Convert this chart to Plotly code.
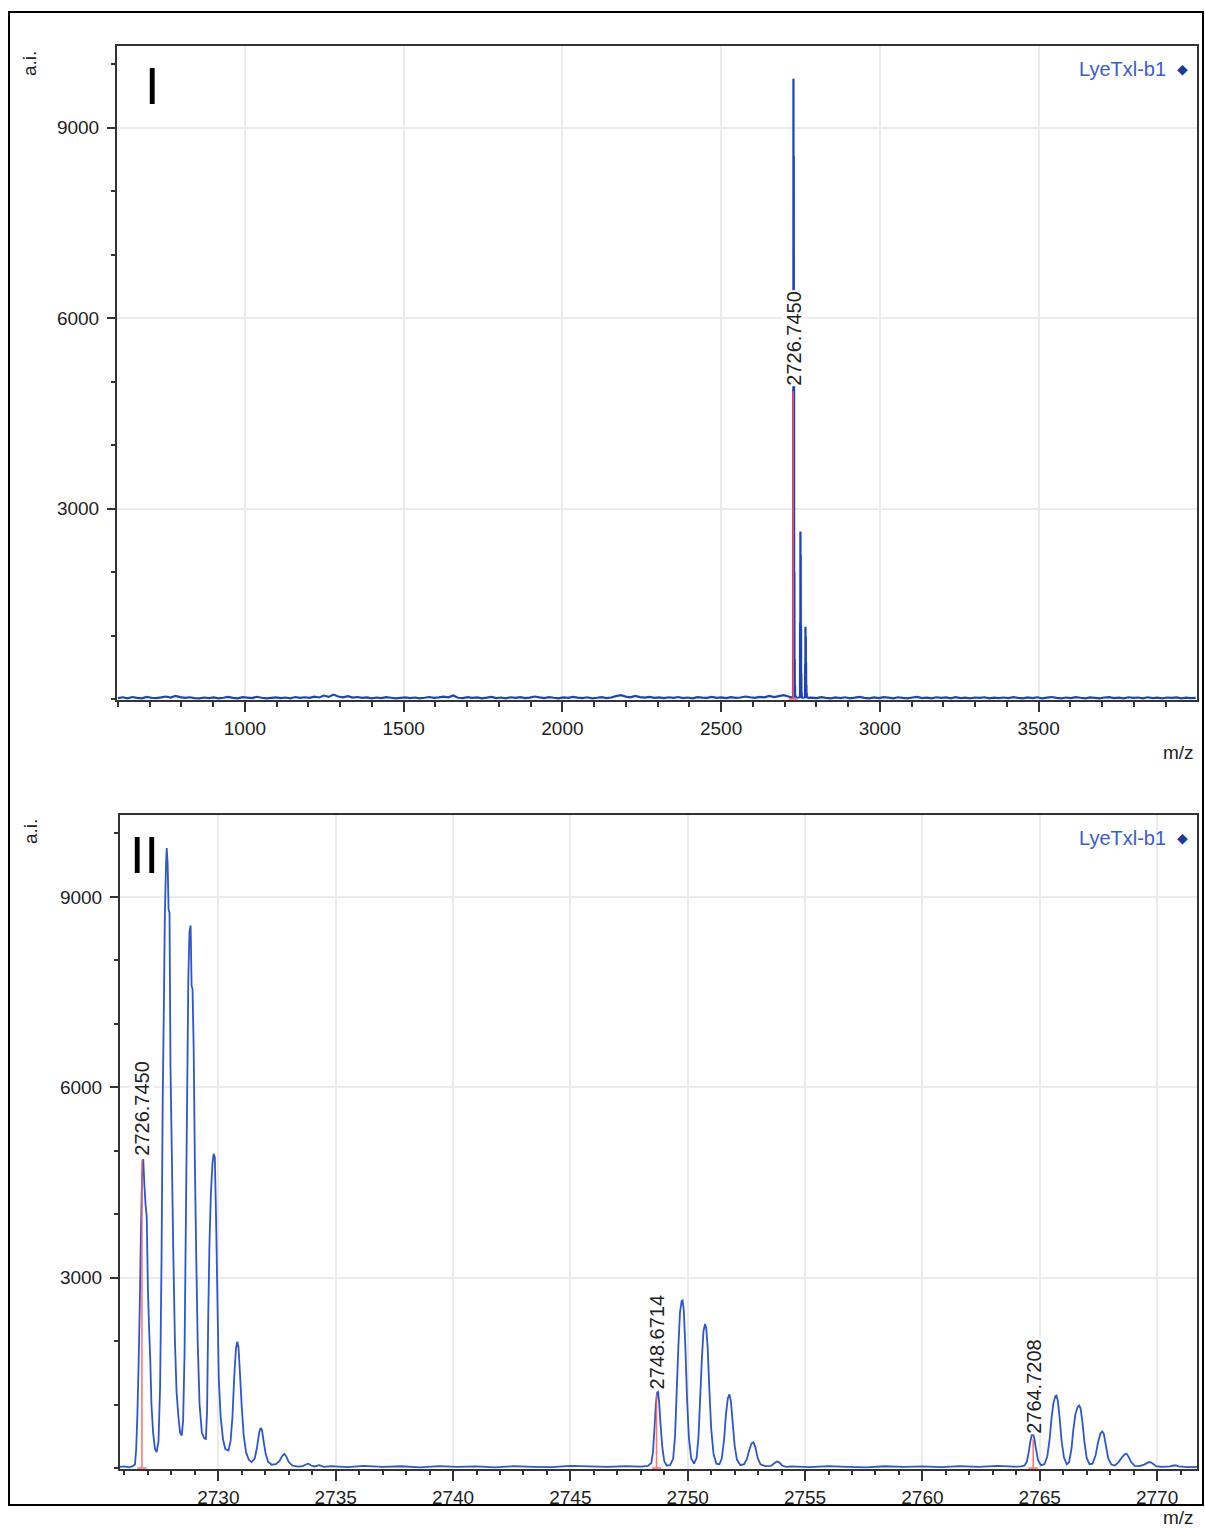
import numpy as np
import plotly.graph_objects as go

W, H = 1205, 1529

# ---------------- spectrum data (m/z, intensity a.i.) ----------------
# isotope cluster around the monoisotopic [M+H]+ 2726.7450
cluster_a_mz = [2725.80, 2726.00, 2726.20, 2726.35, 2726.45, 2726.50, 2726.55, 2726.60, 2726.65, 2726.70,
                2726.75, 2726.80, 2726.85, 2726.90, 2726.95, 2727.00, 2727.05, 2727.10, 2727.15, 2727.22,
                2727.30, 2727.37, 2727.45, 2727.52, 2727.58, 2727.63, 2727.68, 2727.72, 2727.77, 2727.80,
                2727.84, 2727.88, 2727.92, 2727.96, 2728.02, 2728.08, 2728.15, 2728.22, 2728.30, 2728.37,
                2728.44, 2728.50, 2728.56, 2728.62, 2728.68, 2728.72, 2728.77, 2728.82, 2728.86, 2728.90,
                2728.95, 2729.00, 2729.06, 2729.12, 2729.20, 2729.30, 2729.40, 2729.47, 2729.52, 2729.57,
                2729.62, 2729.68, 2729.75, 2729.80, 2729.85, 2729.90, 2729.95, 2730.02, 2730.10, 2730.20,
                2730.30, 2730.43, 2730.52, 2730.60, 2730.68, 2730.75, 2730.81, 2730.86, 2730.92, 2731.00,
                2731.08, 2731.18, 2731.30, 2731.42, 2731.55, 2731.65, 2731.74, 2731.80, 2731.86, 2731.93,
                2732.02, 2732.12, 2732.27, 2732.45, 2732.60, 2732.72, 2732.81, 2732.90, 2733.00, 2733.15,
                2733.40, 2733.60, 2733.75, 2733.84, 2733.95, 2734.10, 2734.30, 2734.50]
cluster_a_int = [18, 25, 12, 30, 60, 300, 830, 1600, 2500, 3700,
                 4600, 4870, 4450, 4150, 3950, 2800, 2200, 1700, 1000, 560,
                 300, 250, 420, 1300, 3300, 5800, 7300, 8700, 9500, 9770,
                 9520, 8800, 8750, 6350, 4900, 3400, 2000, 1200, 800, 560,
                 510, 750, 1800, 4000, 6200, 7700, 8450, 8550, 7600, 7550,
                 6600, 4800, 3300, 2000, 1000, 550, 470, 460, 900, 2400,
                 3500, 4300, 4800, 4950, 4900, 4000, 2900, 1400, 800, 450,
                 300, 277, 420, 800, 1450, 1880, 1990, 1900, 1500, 950,
                 520, 250, 130, 94, 150, 330, 560, 630, 600, 420,
                 220, 100, 52, 60, 110, 190, 225, 180, 95, 40,
                 22, 30, 60, 68, 40, 25, 45, 20]

gap1_mz = [2734.8, 2735.5, 2736.2, 2737.0, 2737.8, 2738.6, 2739.4, 2740.2, 2741.0,
           2741.8, 2742.6, 2743.4, 2744.2, 2745.0, 2745.8, 2746.6, 2747.4, 2748.0]
gap1_int = [30, 15, 35, 20, 28, 12, 30, 18, 25, 10, 30, 20, 15, 35, 25, 18, 30, 22]

# cluster around 2748.6714
cluster_b_mz = [2748.30, 2748.45, 2748.52, 2748.58, 2748.64, 2748.70, 2748.74, 2748.78, 2748.84, 2748.92,
                2749.00, 2749.10, 2749.25, 2749.38, 2749.46, 2749.53, 2749.60, 2749.67, 2749.74, 2749.78,
                2749.83, 2749.90, 2749.97, 2750.05, 2750.15, 2750.27, 2750.38, 2750.46, 2750.53, 2750.60,
                2750.67, 2750.74, 2750.79, 2750.85, 2750.92, 2751.00, 2751.10, 2751.22, 2751.35, 2751.45,
                2751.55, 2751.63, 2751.71, 2751.78, 2751.84, 2751.92, 2752.00, 2752.10, 2752.25, 2752.40,
                2752.52, 2752.62, 2752.72, 2752.80, 2752.88, 2752.98, 2753.10, 2753.30, 2753.55, 2753.70,
                2753.80, 2753.90, 2754.02, 2754.20]
cluster_b_int = [35, 80, 250, 600, 1000, 1190, 1200, 1050, 700, 320,
                 110, 40, 45, 150, 500, 1200, 1900, 2450, 2630, 2640,
                 2500, 1900, 1100, 480, 150, 70, 160, 500, 1100, 1700,
                 2150, 2270, 2200, 1900, 1250, 620, 220, 70, 60, 150,
                 450, 850, 1100, 1160, 1050, 700, 350, 130, 45, 60,
                 140, 280, 390, 405, 330, 160, 60, 30, 35, 80,
                 104, 90, 40, 20]

gap2_mz = [2754.4, 2755.2, 2756.0, 2756.8, 2757.6, 2758.4, 2759.2, 2760.0, 2760.8,
           2761.6, 2762.4, 2763.2, 2763.9]
gap2_int = [25, 15, 30, 20, 12, 28, 18, 25, 15, 30, 20, 35, 22]

# cluster around 2764.7208
cluster_c_mz = [2764.20, 2764.35, 2764.45, 2764.53, 2764.60, 2764.67, 2764.71, 2764.76, 2764.84, 2764.93,
                2765.05, 2765.20, 2765.32, 2765.42, 2765.50, 2765.58, 2765.66, 2765.71, 2765.77, 2765.85,
                2765.93, 2766.03, 2766.15, 2766.25, 2766.35, 2766.43, 2766.52, 2766.61, 2766.68, 2766.74,
                2766.82, 2766.90, 2767.00, 2767.12, 2767.25, 2767.38, 2767.48, 2767.58, 2767.66, 2767.73,
                2767.82, 2767.92, 2768.05, 2768.20, 2768.35, 2768.50, 2768.62, 2768.70, 2768.78, 2768.90,
                2769.05, 2769.25, 2769.45, 2769.60, 2769.70, 2769.80, 2769.95, 2770.20, 2770.55, 2770.70,
                2770.80, 2770.92, 2771.30, 2771.90]
cluster_c_int = [25, 40, 100, 250, 420, 540, 552, 480, 300, 120,
                 45, 60, 180, 450, 780, 1020, 1130, 1140, 1060, 780,
                 430, 170, 60, 90, 300, 600, 850, 960, 985, 940,
                 720, 420, 160, 60, 70, 200, 400, 540, 575, 540,
                 350, 150, 55, 40, 90, 170, 215, 225, 180, 90,
                 35, 30, 55, 85, 95, 75, 30, 20, 25, 40,
                 42, 25, 15, 20]

# survey-scan baseline (600-2700 and 2790-3990, sampled every 15 m/z)
low_noise = [15, 28, 10, 32, 18, 12, 35, 20, 14, 26, 40, 22, 50, 30, 18, 28, 16, 12, 24, 15,
             26, 10, 20, 34, 18, 12, 30, 22, 14, 36, 20, 10, 18, 26, 14, 24, 12, 32, 20, 28,
             18, 38, 25, 55, 34, 70, 40, 28, 45, 22, 32, 18, 26, 12, 24, 15, 30, 20, 10, 18,
             26, 15, 24, 12, 20, 32, 18, 26, 38, 28, 55, 20, 14, 30, 18, 26, 12, 22, 35, 16,
             24, 10, 28, 18, 30, 14, 22, 40, 26, 16, 30, 20, 12, 26, 18, 34, 22, 15, 28, 12,
             20, 30, 16, 24, 45, 60, 38, 26, 50, 30, 22, 35, 18, 26, 14, 28, 20, 32, 16, 24,
             12, 30, 22, 18, 34, 20, 26, 14, 30, 18, 24, 40, 28, 20, 35, 26, 50, 30, 45, 60, 40]
high_noise = [22, 14, 30, 18, 10, 26, 16, 28, 12, 22, 34, 18, 10, 25, 16, 30, 22, 12, 28, 18,
              10, 24, 34, 16, 22, 12, 28, 18, 25, 10, 30, 16, 22, 12, 24, 18, 28, 10, 22, 16,
              24, 14, 30, 18, 12, 26, 16, 28, 12, 22, 32, 18, 10, 24, 16, 30, 20, 12, 26, 18,
              10, 24, 30, 16, 22, 12, 28, 18, 24, 10, 28, 16, 22, 12, 24, 18, 26, 10, 22, 16, 20]

# annotated monoisotopic peaks
peak_mz = [2726.7450, 2748.6714, 2764.7208]
peak_int = [4850, 1160, 455]

# axis ticks
survey_ticks = [1000, 1500, 2000, 2500, 3000, 3500]
zoom_ticks = [2730, 2735, 2740, 2745, 2750, 2755, 2760, 2765, 2770]
int_ticks = [3000, 6000, 9000]

# ---------------- assemble traces ----------------
zoom_mz = cluster_a_mz + gap1_mz + cluster_b_mz + gap2_mz + cluster_c_mz
zoom_int = cluster_a_int + gap1_int + cluster_b_int + gap2_int + cluster_c_int

low_mz = list(np.linspace(600, 2712, len(low_noise)))
high_mz = list(np.linspace(2785, 3995, len(high_noise)))
survey_mz = low_mz + zoom_mz + high_mz
survey_int = low_noise + zoom_int + high_noise

BLUE = "#2b57d0"
BLUE_DARK = "#1c44b8"
RED = "#ff5f5f"
FONT = "Arial, 'Liberation Sans', sans-serif"
TXT = "#222222"

fig = go.Figure()

fig.add_trace(go.Scatter(x=survey_mz, y=survey_int, mode="lines",
                         line=dict(color=BLUE_DARK, width=2.2, simplify=False),
                         xaxis="x", yaxis="y", hoverinfo="skip"))
fig.add_trace(go.Scatter(x=zoom_mz, y=zoom_int, mode="lines",
                         line=dict(color=BLUE, width=1.8, simplify=False),
                         xaxis="x2", yaxis="y2", hoverinfo="skip"))


def stick_xy(mzs, ints, half):
    xs, ys = [], []
    for m, v in zip(mzs, ints):
        xs += [m, m, None, m - half, m + half, None]
        ys += [0, v, None, 0, 0, None]
    return xs, ys


sx, sy = stick_xy(peak_mz[:1], peak_int[:1], 14)
fig.add_trace(go.Scatter(x=sx, y=sy, mode="lines", line=dict(color=RED, width=1.6),
                         opacity=0.9, xaxis="x", yaxis="y", hoverinfo="skip"))
sx, sy = stick_xy(peak_mz, peak_int, 0.2)
fig.add_trace(go.Scatter(x=sx, y=sy, mode="lines", line=dict(color=RED, width=1.6),
                         opacity=0.85, xaxis="x2", yaxis="y2", hoverinfo="skip"))

axis_common = dict(showline=True, linecolor="#333333", linewidth=2, mirror=True,
                   ticks="outside", tickcolor="#333333", tickwidth=1.5,
                   showgrid=True, gridcolor="#ebebeb", gridwidth=1.5, zeroline=False,
                   tickfont=dict(family=FONT, size=19, color=TXT))


def px_x(p):
    return p / W


def px_y(p):
    return 1 - p / H


fig.update_layout(
    width=W, height=H, autosize=False,
    margin=dict(l=0, r=0, t=0, b=0),
    paper_bgcolor="white", plot_bgcolor="white",
    showlegend=False,
    xaxis=dict(domain=[px_x(117), px_x(1197)], range=[597, 3999], anchor="y",
               tickvals=survey_ticks, ticklen=10, ticklabelstandoff=0,
               minor=dict(dtick=100, tick0=0, ticklen=5, ticks="outside",
                          tickcolor="#333333", showgrid=False),
               **axis_common),
    yaxis=dict(domain=[px_y(700), px_y(46)], range=[-15, 10285], anchor="x",
               tickvals=int_ticks, ticklen=8, ticklabelstandoff=4,
               minor=dict(dtick=1000, tick0=0, ticklen=4, ticks="outside",
                          tickcolor="#333333", showgrid=False),
               **axis_common),
    xaxis2=dict(domain=[px_x(120), px_x(1197)], range=[2725.81, 2771.7], anchor="y2",
                tickvals=zoom_ticks, ticklen=10, ticklabelstandoff=0,
                minor=dict(dtick=1, tick0=0, ticklen=4, ticks="outside",
                           tickcolor="#333333", showgrid=False),
                **axis_common),
    yaxis2=dict(domain=[px_y(1469), px_y(815)], range=[-15, 10290], anchor="x2",
                tickvals=int_ticks, ticklen=8, ticklabelstandoff=4,
                minor=dict(dtick=1000, tick0=0, ticklen=4, ticks="outside",
                           tickcolor="#333333", showgrid=False),
                **axis_common),
)

ann = []
# peak labels (white box hides the grid / trace behind the text)
label_font = dict(family=FONT, size=20, color=TXT)
ann.append(dict(x=peak_mz[0], y=peak_int[0], xref="x", yref="y", text=f"{peak_mz[0]:.4f}",
                textangle=-90, showarrow=False, xanchor="center", yanchor="bottom", yshift=4,
                bgcolor="white", borderpad=0, font=label_font))
for m, v in zip(peak_mz, peak_int):
    ann.append(dict(x=m, y=v, xref="x2", yref="y2", text=f"{m:.4f}",
                    textangle=-90, showarrow=False, xanchor="center", yanchor="bottom", yshift=4,
                    bgcolor="white", borderpad=0, font=label_font))

for ypx_ai, ypx_leg, ypx_mz, roman, xr in [(63, 69, 752, "I", 152), (831, 838, 1517, "II", 144)]:
    ann.append(dict(x=px_x(30), y=px_y(ypx_ai), xref="paper", yref="paper", text="a.i.",
                    textangle=-90, showarrow=False, xanchor="center", yanchor="middle",
                    font=dict(family=FONT, size=19, color=TXT)))
    ann.append(dict(x=px_x(1168), y=px_y(ypx_leg), xref="paper", yref="paper", text="LyeTxl-b1",
                    showarrow=False, xanchor="right", yanchor="middle",
                    font=dict(family=FONT, size=20, color="#3a5ccf")))
    ann.append(dict(x=px_x(1182), y=px_y(ypx_leg), xref="paper", yref="paper", text="◆",
                    showarrow=False, xanchor="center", yanchor="middle",
                    font=dict(family="DejaVu Sans", size=14, color="#1c3a9e")))
    ann.append(dict(x=px_x(1196), y=px_y(ypx_mz), xref="paper", yref="paper", text="m/z",
                    showarrow=False, xanchor="right", yanchor="middle",
                    font=dict(family=FONT, size=19, color=TXT)))
    ann.append(dict(x=px_x(xr), y=px_y(ypx_leg + 17), xref="paper", yref="paper", text=roman,
                    showarrow=False, xanchor="center", yanchor="middle",
                    font=dict(family=FONT, size=52, color="black")))

fig.update_layout(annotations=ann)

# outer frame around both panels
fig.add_shape(type="rect", xref="paper", yref="paper",
              x0=px_x(9), x1=px_x(1203), y0=px_y(1505), y1=px_y(12),
              line=dict(color="black", width=2), fillcolor="rgba(0,0,0,0)", layer="above")

fig.write_html("out.html")
